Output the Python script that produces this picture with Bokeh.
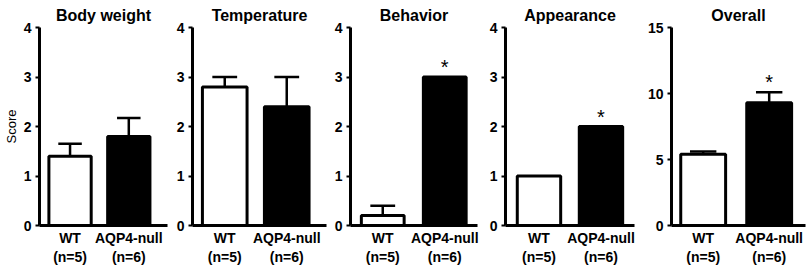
from bokeh.plotting import figure
from bokeh.layouts import row
from bokeh.models import ColumnDataSource, FixedTicker, Range1d
from bokeh.embed import file_html
from bokeh.resources import INLINE
from bokeh.core.properties import value

# ---- data ----
groups = ["WT", "AQP4-null"]
group_n = ["(n=5)", "(n=6)"]
titles = ["Body weight", "Temperature", "Behavior", "Appearance", "Overall"]
wt_mean = [1.4, 2.8, 0.2, 1.0, 5.4]
wt_err = [0.25, 0.2, 0.2, 0.0, 0.2]
ko_mean = [1.8, 2.4, 3.0, 2.0, 9.3]
ko_err = [0.37, 0.6, 0.0, 0.0, 0.8]
significant = [False, False, True, True, True]
y_max = [4, 4, 4, 4, 15]
y_ticks = [[0, 1, 2, 3, 4], [0, 1, 2, 3, 4], [0, 1, 2, 3, 4], [0, 1, 2, 3, 4], [0, 5, 10, 15]]
y_label = "Score"

# ---- layout (pixels / styling only) ----
fig_w = [172, 159, 151, 157, 173]
border_l = [33, 20, 18, 23, 32]
border_r = [5, 5, 5, 5, 7]
x_start = [0.48, 0.48, 0.48, 0.46, 0.52]
px_per_unit = [61.5, 62.0, 62.5, 62.0, 66.0]
bar_w = [0.72, 0.72, 0.69, 0.7, 0.68]
cap_half = 0.2
FONT = "Liberation Sans"

figs = []
for i in range(len(titles)):
    frame_w = fig_w[i] - border_l[i] - border_r[i]
    xs = [k + 1 for k in range(len(groups))]
    p = figure(width=fig_w[i], height=267, output_backend="svg", toolbar_location=None,
               x_range=Range1d(x_start[i], x_start[i] + frame_w / px_per_unit[i]),
               y_range=Range1d(0, y_max[i]),
               min_border_left=border_l[i], min_border_right=border_r[i],
               min_border_top=27, min_border_bottom=39,
               title=titles[i])
    p.outline_line_color = None
    p.xgrid.visible = False
    p.ygrid.visible = False
    p.background_fill_color = "white"
    p.border_fill_color = "white"

    p.title.text_font = FONT
    p.title.text_font_style = "bold"
    p.title.text_font_size = "16px"
    p.title.align = "center"
    p.title.text_color = "black"
    p.title.standoff = 8
    p.title.offset = 0

    means = [wt_mean[i], ko_mean[i]]
    errs = [wt_err[i], ko_err[i]]
    fills = ["white", "black"]
    src = ColumnDataSource(dict(x=xs, top=means, fill=fills))
    ex = [xs[k] for k in range(len(xs)) if errs[k] > 0]
    ey0 = [means[k] for k in range(len(xs)) if errs[k] > 0]
    ey1 = [means[k] + errs[k] for k in range(len(xs)) if errs[k] > 0]
    esrc = ColumnDataSource(dict(x=ex, y0=ey0, y1=ey1,
                                 xl=[v - cap_half for v in ex], xr=[v + cap_half for v in ex]))
    p.segment(x0="x", y0="y0", x1="x", y1="y1", source=esrc, line_color="black", line_width=2.5)
    p.segment(x0="xl", y0="y1", x1="xr", y1="y1", source=esrc, line_color="black", line_width=2.5)
    p.vbar(x="x", top="top", bottom=0, width=bar_w[i], source=src,
           fill_color="fill", line_color="black", line_width=3)

    if significant[i]:
        p.text(x=[xs[1]], y=[ko_mean[i] + ko_err[i]], text=["*"],
               text_font=value(FONT), text_font_size="20px", text_align="center",
               text_baseline="middle", y_offset=-10, text_color="black")

    p.yaxis.ticker = FixedTicker(ticks=y_ticks[i])
    p.yaxis.minor_tick_line_color = None
    p.yaxis.major_tick_out = 4
    p.yaxis.major_tick_in = 0
    p.yaxis.major_tick_line_width = 2
    p.yaxis.axis_line_width = 3
    p.yaxis.major_label_text_font = FONT
    p.yaxis.major_label_text_font_style = "bold"
    p.yaxis.major_label_text_font_size = "14px"
    p.yaxis.major_label_text_color = "black"
    p.yaxis.major_label_standoff = 4
    if i == 0:
        p.yaxis.axis_label = y_label
        p.yaxis.axis_label_text_font = FONT
        p.yaxis.axis_label_text_font_style = "normal"
        p.yaxis.axis_label_text_font_size = "13px"
        p.yaxis.axis_label_text_color = "black"
        p.yaxis.axis_label_standoff = 2

    p.xaxis.ticker = FixedTicker(ticks=xs)
    p.xaxis.major_label_overrides = {xs[k]: groups[k] + "\n" + group_n[k] for k in range(len(xs))}
    p.xaxis.minor_tick_line_color = None
    p.xaxis.major_tick_out = 0
    p.xaxis.major_tick_in = 0
    p.xaxis.axis_line_width = 3
    p.xaxis.major_label_text_font = FONT
    p.xaxis.major_label_text_font_style = "bold"
    p.xaxis.major_label_text_font_size = "14px"
    p.xaxis.major_label_text_color = "black"
    p.xaxis.major_label_standoff = 4
    figs.append(p)

layout = row(*figs, spacing=0)
open("out.html", "w").write(file_html(layout, INLINE))
